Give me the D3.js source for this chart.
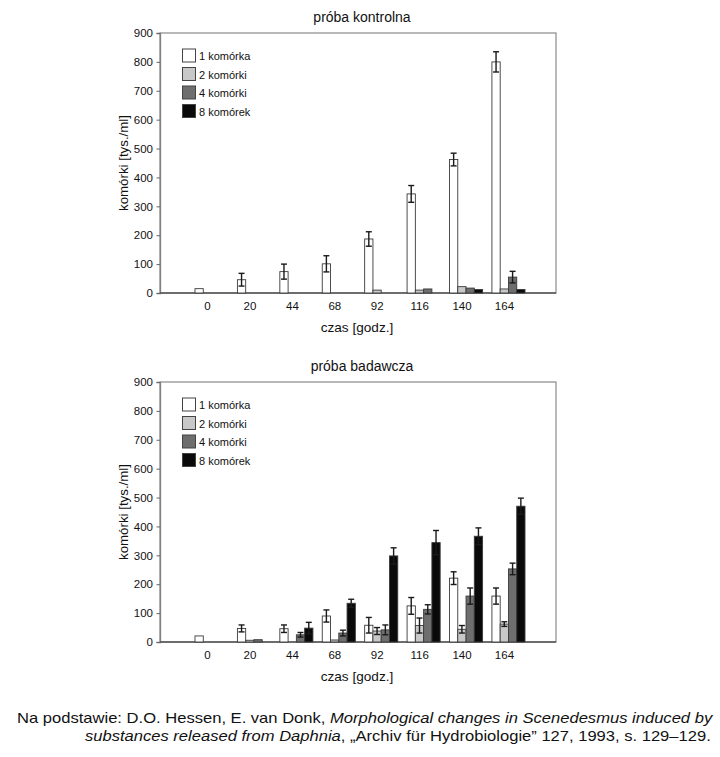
<!DOCTYPE html>
<html><head><meta charset="utf-8">
<script src="https://cdn.jsdelivr.net/npm/d3@7/dist/d3.min.js"></script>
<style>body{margin:0;background:#fff}svg{display:block}text{font-family:"Liberation Sans",Arial,sans-serif}</style>
</head><body>
<svg id="c" width="720" height="757"></svg>
<script>
const categories = ["0","20","44","68","92","116","140","164"];
const seriesNames = ["1 komórka","2 komórki","4 komórki","8 komórek"];
const seriesColors = ["#ffffff","#c8c8c8","#6e6e6e","#0a0a0a"];
const yTicks = [0,100,200,300,400,500,600,700,800,900];

// próba kontrolna: values and error (± half-range)
const ctrl1 = [15,46,74,101,187,343,462,800];
const ctrl1e = [0,22,26,28,25,29,22,35];
const ctrl2 = [0,0,0,0,10,10,22,14];
const ctrl2e = [0,0,0,0,0,0,0,0];
const ctrl4 = [0,0,0,0,0,14,17,55];
const ctrl4e = [0,0,0,0,0,0,0,20];
const ctrl8 = [0,0,0,0,0,0,12,12];
const ctrl8e = [0,0,0,0,0,0,0,0];

// próba badawcza
const bad1 = [21,47,46,90,58,125,221,159];
const bad1e = [0,12,13,21,27,29,22,28];
const bad2 = [0,6,0,7,38,57,44,62];
const bad2e = [0,0,0,0,12,26,13,8];
const bad4 = [0,8,25,31,42,113,159,253];
const bad4e = [0,0,8,10,17,16,28,20];
const bad8 = [0,0,48,134,298,344,366,470];
const bad8e = [0,0,20,14,28,42,29,28];

const svg = d3.select("#c");

function drawChart(top, title, vals, errs){
  const L=160, R=556, T=top, B=top+260;
  const g = svg.append("g");
  const x = d3.scaleBand().domain(categories).range([195,525]).paddingInner(0.22).paddingOuter(0);
  const xs = d3.scaleBand().domain(d3.range(4)).range([0,x.bandwidth()]);
  const y = d3.scaleLinear().domain([0,900]).range([B,T]);

  // frame
  g.append("rect").attr("x",L).attr("y",T).attr("width",R-L).attr("height",B-T)
    .attr("fill","none").attr("stroke","#8a8a8a").attr("stroke-width",1.2);

  // y axis
  const ya = g.append("g").attr("transform",`translate(${L},0)`)
    .call(d3.axisLeft(y).tickValues(yTicks).tickSize(3.5).tickPadding(3.5));
  ya.select(".domain").attr("stroke","#808080").attr("stroke-width",1.3);
  ya.selectAll(".tick line").attr("stroke","#666");
  ya.selectAll("text").attr("font-size",11.5).attr("fill","#111").attr("font-family","Liberation Sans, Arial, sans-serif");

  // x axis labels
  const xa = g.append("g").attr("transform",`translate(-4,${B})`)
    .call(d3.axisBottom(x).tickSize(0).tickPadding(9));
  xa.select(".domain").remove();
  xa.selectAll("text").attr("font-size",11.5).attr("fill","#111").attr("font-family","Liberation Sans, Arial, sans-serif");
  g.append("line").attr("x1",L).attr("x2",R).attr("y1",B).attr("y2",B).attr("stroke","#555").attr("stroke-width",1.4);

  // bars
  vals.forEach((arr,si)=>{
    arr.forEach((v,ci)=>{
      if(v<=0) return;
      const bx = x(categories[ci])+xs(si);
      g.append("rect").attr("x",bx).attr("y",y(v)).attr("width",xs.bandwidth()).attr("height",B-y(v))
        .attr("fill",seriesColors[si]).attr("stroke","#3a3a3a").attr("stroke-width",0.9);
      const e = errs[si][ci];
      if(e>0){
        const cx = bx+xs.bandwidth()/2;
        const eg = g.append("g").attr("stroke","#1a1a1a").attr("stroke-width",1.4);
        eg.append("line").attr("x1",cx).attr("x2",cx).attr("y1",y(v+e)).attr("y2",y(Math.max(0,v-e)));
        eg.append("line").attr("x1",cx-3).attr("x2",cx+3).attr("y1",y(v+e)).attr("y2",y(v+e));
        eg.append("line").attr("x1",cx-3).attr("x2",cx+3).attr("y1",y(Math.max(0,v-e))).attr("y2",y(Math.max(0,v-e)));
      }
    });
  });

  // legend
  seriesNames.forEach((n,i)=>{
    const ly = T+16+i*18.5;
    g.append("rect").attr("x",182.5).attr("y",ly).attr("width",13).attr("height",13)
      .attr("fill",seriesColors[i]).attr("stroke","#444").attr("stroke-width",1);
    g.append("text").attr("x",199).attr("y",ly+11).attr("font-size",11).attr("fill","#111").text(n);
  });

  // titles
  g.append("text").attr("x",362).attr("y",T-11).attr("text-anchor","middle").attr("font-size",14).attr("fill","#111").text(title);
  g.append("text").attr("transform",`translate(128,${(T+B)/2}) rotate(-90)`).attr("text-anchor","middle")
    .attr("font-size",13.3).attr("fill","#111").text("komórki [tys./ml]");
  g.append("text").attr("x",357).attr("y",B+39).attr("text-anchor","middle").attr("font-size",13.6).attr("fill","#111").text("czas [godz.]");
}

drawChart(33,"próba kontrolna",[ctrl1,ctrl2,ctrl4,ctrl8],[ctrl1e,ctrl2e,ctrl4e,ctrl8e]);
drawChart(382,"próba badawcza",[bad1,bad2,bad4,bad8],[bad1e,bad2e,bad4e,bad8e]);

// footer
function footerLine(yy, parts, right, left){
  const t = svg.append("text").attr("y",yy).attr("font-size",14).attr("fill","#111")
    .attr("font-family","'Liberation Sans Narrow','Arial Narrow','Liberation Sans',Arial,sans-serif");
  parts.forEach(p=>t.append("tspan").attr("font-style",p[1]?"italic":"normal").text(p[0]));
  const w = t.node().getComputedTextLength();
  const sx = (right-left)/w;
  t.attr("transform",`translate(${left},0) scale(${sx},1)`).attr("x",0);
}
footerLine(722.7,[["Na podstawie: D.O. Hessen, E. van Donk, ",0],["Morphological changes in Scenedesmus induced by",1]],713,17);
footerLine(740.7,[["substances released from Daphnia",1],[", „Archiv für Hydrobiologie” 127, 1993, s. 129–129.",0]],711,85);
</script>
</body></html>
